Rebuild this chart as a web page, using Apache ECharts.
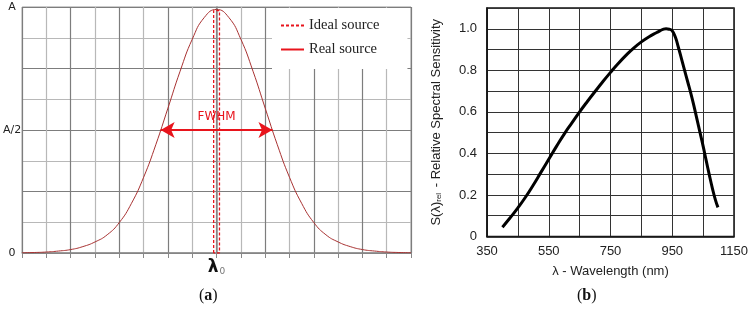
<!DOCTYPE html>
<html>
<head>
<meta charset="utf-8">
<script src="https://cdn.jsdelivr.net/npm/echarts@6/dist/echarts.min.js"></script>
<style>
    html, body { margin: 0; padding: 0; background: #fff; }
    #chart { width: 753px; height: 318px; }
</style>
</head>
<body>
<div id="chart"></div>
<script>
// (a) line profile, x in units of grid columns around lambda0
var gaussX = [-8,-7.5,-7,-6.5,-6,-5.5,-5,-4.5,-4,-3.5,-3,-2.5,-2,-1.5,-1,-0.5,0,0.5,1,1.5,2,2.5,3,3.5,4,4.5,5,5.5,6,6.5,7,7.5,8];
var gaussY = [0.001,0.002,0.004,0.008,0.014,0.026,0.045,0.074,0.124,0.202,0.308,0.44,0.589,0.739,0.869,0.958,0.99,0.958,0.869,0.739,0.589,0.44,0.308,0.202,0.124,0.074,0.045,0.026,0.014,0.008,0.004,0.002,0.001];
// ideal source: very narrow box at lambda0
var idealX = [-0.12,-0.12,0.12,0.12,-0.12];
var idealY = [0,0.985,0.985,0,0];
var fwhmX = [-2.3, 2.3];
var fwhmLevel = 0.5;

// (b) relative spectral sensitivity
var wavelength = [400,425,450,475,500,525,550,575,600,625,650,675,700,725,750,775,800,825,850,875,900,910,920,930,940,950,960,970,980,990,1000,1010,1020,1030,1040,1050,1060,1070,1080,1090,1098];
var sensitivity = [0.045,0.09,0.138,0.19,0.248,0.31,0.372,0.434,0.493,0.547,0.6,0.65,0.698,0.745,0.79,0.833,0.872,0.907,0.937,0.962,0.982,0.99,0.997,1.0,0.998,0.99,0.96,0.91,0.855,0.8,0.745,0.69,0.63,0.565,0.5,0.435,0.365,0.297,0.232,0.175,0.14];

function pairs(xs, ys){
    var out = [];
    for (var i = 0; i < xs.length; i++) out.push([xs[i], ys[i]]);
    return out;
}

var chart = echarts.init(document.getElementById('chart'));
var option = {
    animation: false,
    backgroundColor: '#fff',
    legend: {
        data: [
            {name: 'Ideal source', itemStyle: {opacity: 0}, lineStyle: {color: '#e8141c', width: 2, type: [3, 2]}},
            {name: 'Real source', itemStyle: {opacity: 0}, lineStyle: {color: '#e8141c', width: 2, type: 'solid'}}
        ],
        orient: 'vertical',
        left: 272,
        top: 8,
        padding: [10, 28, 12, 8],
        itemWidth: 23,
        itemHeight: 14,
        itemGap: 9,
        backgroundColor: '#fff',
        textStyle: {fontFamily: 'Liberation Serif', fontSize: 14.5, color: '#222'}
    },
    grid: [
        {left: 22, top: 7, width: 389, height: 246, show: true, borderColor: '#999', borderWidth: 1},
        {left: 487, top: 8, width: 247, height: 228.5, show: true, borderColor: '#111', borderWidth: 1.5}
    ],
    xAxis: [
        {
            gridIndex: 0, type: 'value', min: -8, max: 8, interval: 1,
            axisLine: {lineStyle: {color: '#888', width: 1.5}},
            axisTick: {show: true, length: 5, lineStyle: {color: '#888'}},
            splitLine: {show: true, lineStyle: {color: ['#7d7d7d', '#b8b8b8'], width: 1.2}},
            axisLabel: {
                margin: 6,
                formatter: function(v){ return v === 0 ? '{l|λ}{s|0}' : ''; },
                rich: {
                    l: {fontFamily: 'DejaVu Sans', fontSize: 17, fontWeight: 'bold', color: '#111'},
                    s: {fontFamily: 'DejaVu Sans', fontSize: 9, color: '#777', padding: [8, 0, 0, 1]}
                }
            }
        },
        {
            gridIndex: 1, type: 'value', min: 350, max: 1150, interval: 100,
            axisLine: {lineStyle: {color: '#111', width: 1.5}},
            axisTick: {show: false},
            splitLine: {show: true, lineStyle: {color: '#333', width: 1}},
            axisLabel: {
                margin: 8,
                fontFamily: 'Liberation Sans', fontSize: 13, color: '#222',
                formatter: function(v){ return (v - 350) % 200 === 0 ? String(v) : ''; }
            },
            name: 'λ - Wavelength (nm)',
            nameLocation: 'middle',
            nameGap: 28,
            nameTextStyle: {fontFamily: 'Liberation Sans', fontSize: 13, color: '#222'}
        }
    ],
    yAxis: [
        {
            gridIndex: 0, type: 'value', min: 0, max: 1, interval: 0.125,
            axisLine: {show: true, lineStyle: {color: '#888', width: 1.5}},
            axisTick: {show: true, length: 4, lineStyle: {color: '#888'}},
            splitLine: {show: true, lineStyle: {color: ['#7d7d7d', '#b8b8b8'], width: 1.2}},
            axisLabel: {
                margin: 10,
                align: 'center',
                fontFamily: 'DejaVu Sans', fontSize: 11, color: '#222',
                formatter: function(v){
                    if (v === 0) return '0';
                    if (v === 0.5) return 'A/2';
                    if (v === 1) return 'A';
                    return '';
                }
            }
        },
        {
            gridIndex: 1, type: 'value', min: 0, max: 1.1, interval: 0.1,
            axisLine: {show: true, lineStyle: {color: '#111', width: 1.5}},
            axisTick: {show: false},
            splitLine: {show: true, lineStyle: {color: '#333', width: 1}},
            axisLabel: {
                margin: 10,
                fontFamily: 'Liberation Sans', fontSize: 13, color: '#222',
                formatter: function(v){
                    var k = Math.round(v * 10);
                    if (k === 0) return '0';
                    if (k % 2 === 0 && k <= 10) return (k / 10).toFixed(1);
                    return '';
                }
            },
            name: '{n|S(λ)}{r|rel}{n| - Relative Spectral Sensitivity}',
            nameLocation: 'middle',
            nameGap: 44,
            nameTextStyle: {
                rich: {
                    n: {fontFamily: 'Liberation Sans', fontSize: 13, color: '#222'},
                    r: {fontFamily: 'Liberation Sans', fontSize: 8, color: '#222', padding: [6, 2, 0, 0]}
                }
            }
        }
    ],
    series: [
        {
            name: 'Real source',
            type: 'line',
            xAxisIndex: 0, yAxisIndex: 0,
            smooth: true,
            symbol: 'none',
            itemStyle: {color: '#a83232'},
            lineStyle: {color: '#a83232', width: 1},
            data: pairs(gaussX, gaussY),
            markLine: {
                silent: true,
                symbol: ['arrow', 'arrow'],
                symbolSize: [12, 14],
                lineStyle: {color: '#e8141c', width: 2, type: 'solid'},
                label: {
                    show: true, position: 'middle', formatter: 'FWHM', distance: 7,
                    fontFamily: 'DejaVu Sans', fontSize: 12, color: '#e8141c'
                },
                data: [[{coord: [fwhmX[0], fwhmLevel]}, {coord: [fwhmX[1], fwhmLevel]}]]
            }
        },
        {
            name: 'Ideal source',
            type: 'line',
            xAxisIndex: 0, yAxisIndex: 0,
            symbol: 'none',
            itemStyle: {color: '#e8141c'},
            lineStyle: {color: '#e8141c', width: 1.3, type: [3, 2]},
            data: pairs(idealX, idealY)
        },
        {
            name: 'Sensitivity',
            type: 'line',
            xAxisIndex: 1, yAxisIndex: 1,
            smooth: 0.5,
            symbol: 'none',
            itemStyle: {color: '#000'},
            lineStyle: {color: '#000', width: 3},
            data: pairs(wavelength, sensitivity)
        }
    ],
    graphic: [
        {
            type: 'text', left: 199, top: 288,
            style: {
                text: '{p|(}{b|a}{p|)}',
                rich: {
                    p: {fontFamily: 'Liberation Serif', fontSize: 16, fill: '#111'},
                    b: {fontFamily: 'Liberation Serif', fontSize: 16, fontWeight: 'bold', fill: '#111'}
                }
            }
        },
        {
            type: 'text', left: 577, top: 288,
            style: {
                text: '{p|(}{b|b}{p|)}',
                rich: {
                    p: {fontFamily: 'Liberation Serif', fontSize: 16, fill: '#111'},
                    b: {fontFamily: 'Liberation Serif', fontSize: 16, fontWeight: 'bold', fill: '#111'}
                }
            }
        }
    ]
};
chart.setOption(option);
</script>
</body>
</html>
